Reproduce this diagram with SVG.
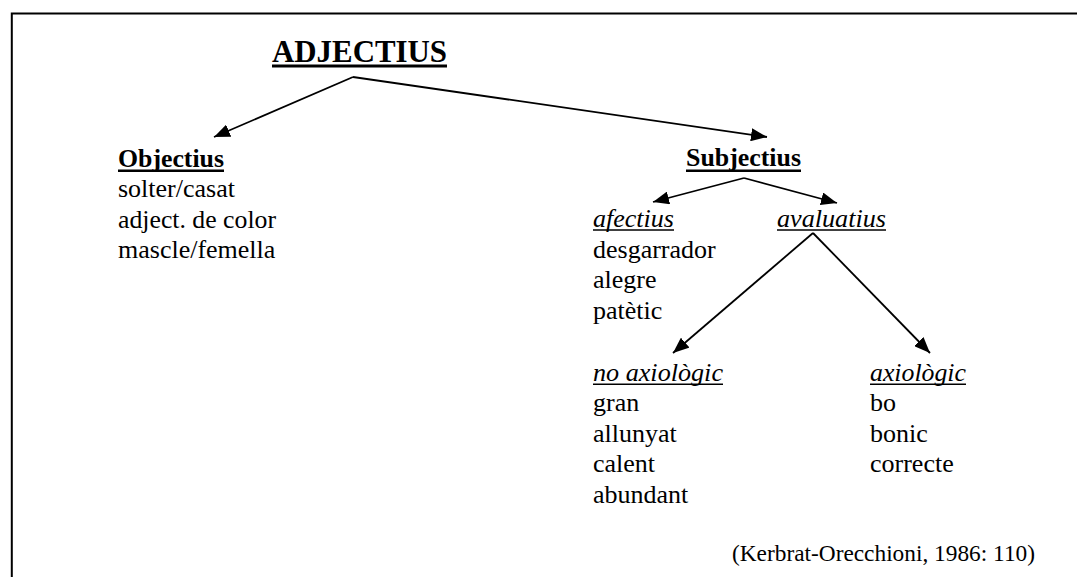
<svg xmlns="http://www.w3.org/2000/svg" width="1077" height="577" viewBox="0 0 1077 577">
  <style>
    text { font-family: "Liberation Serif", "Tinos", "DejaVu Serif", "Noto Serif", "Times New Roman", Times, serif; fill: #000; }
    .body { font-size: 26px; }
    .head { font-size: 26px; font-weight: bold; }
    .it { font-size: 26px; font-style: italic; }
    .title { font-size: 32px; font-weight: bold; }
    .cite { font-size: 23px; }
    .ul { stroke: #000; }
    .conn { stroke: #000; stroke-width: 1.8; fill: none; marker-end: url(#arrow); }
    .frame { stroke: #000; stroke-width: 2; fill: none; }
  </style>
  <defs>
    <marker id="arrow" markerUnits="userSpaceOnUse" markerWidth="16" markerHeight="13" refX="16" refY="6.5" orient="auto">
      <path d="M0,0 L16,6.5 L0,13 Z" fill="#000"/>
    </marker>
  </defs>
  <rect width="1077" height="577" fill="#fff"/>
  <path class="frame" d="M11.8,577 V13.5 H1077"/>

  <g id="connectors">
    <path class="conn" d="M353,77 L214,137"/>
    <path class="conn" d="M353,77 L767,137"/>
    <path class="conn" d="M744,178 L653,202"/>
    <path class="conn" d="M744,178 L837,203"/>
    <path class="conn" d="M813,233 L673,353"/>
    <path class="conn" d="M813,233 L930,353"/>
  </g>

  <g id="adjectius">
    <text class="title" x="272" y="61.5" textLength="175" lengthAdjust="spacingAndGlyphs">ADJECTIUS</text>
    <line class="ul" x1="272" y1="66" x2="447" y2="66" stroke-width="3"/>
  </g>

  <g id="objectius">
    <text class="head" x="118" y="166.5" textLength="106" lengthAdjust="spacingAndGlyphs">Objectius</text>
    <line class="ul" x1="118" y1="170.7" x2="224" y2="170.7" stroke-width="2.4"/>
    <text class="body" x="118" y="197">solter/casat</text>
    <text class="body" x="118" y="227.5" textLength="158" lengthAdjust="spacingAndGlyphs">adject. de color</text>
    <text class="body" x="118" y="258">mascle/femella</text>
  </g>

  <g id="subjectius">
    <text class="head" x="686" y="166" textLength="115" lengthAdjust="spacingAndGlyphs">Subjectius</text>
    <line class="ul" x1="686" y1="170.7" x2="801" y2="170.7" stroke-width="2.4"/>
  </g>

  <g id="afectius">
    <text class="it" x="593" y="227" textLength="81" lengthAdjust="spacingAndGlyphs">afectius</text>
    <line class="ul" x1="593" y1="230" x2="674" y2="230" stroke-width="1.4"/>
    <text class="body" x="593" y="257.5">desgarrador</text>
    <text class="body" x="593" y="288">alegre</text>
    <text class="body" x="593" y="318.5">patètic</text>
  </g>

  <g id="avaluatius">
    <text class="it" x="777" y="227" textLength="109" lengthAdjust="spacingAndGlyphs">avaluatius</text>
    <line class="ul" x1="777" y1="230" x2="886" y2="230" stroke-width="1.4"/>
  </g>

  <g id="no-axiologic">
    <text class="it" x="593" y="380.5" textLength="130" lengthAdjust="spacingAndGlyphs">no axiològic</text>
    <line class="ul" x1="593" y1="384.3" x2="723" y2="384.3" stroke-width="1.4"/>
    <text class="body" x="593" y="411">gran</text>
    <text class="body" x="593" y="441.5">allunyat</text>
    <text class="body" x="593" y="472">calent</text>
    <text class="body" x="593" y="502.5">abundant</text>
  </g>

  <g id="axiologic">
    <text class="it" x="870" y="380.5" textLength="96" lengthAdjust="spacingAndGlyphs">axiològic</text>
    <line class="ul" x1="870" y1="384.3" x2="966" y2="384.3" stroke-width="1.4"/>
    <text class="body" x="870" y="411">bo</text>
    <text class="body" x="870" y="441.5">bonic</text>
    <text class="body" x="870" y="472">correcte</text>
  </g>

  <g id="citation">
    <text class="cite" x="732" y="561" textLength="303" lengthAdjust="spacingAndGlyphs">(Kerbrat-Orecchioni, 1986: 110)</text>
  </g>
</svg>
